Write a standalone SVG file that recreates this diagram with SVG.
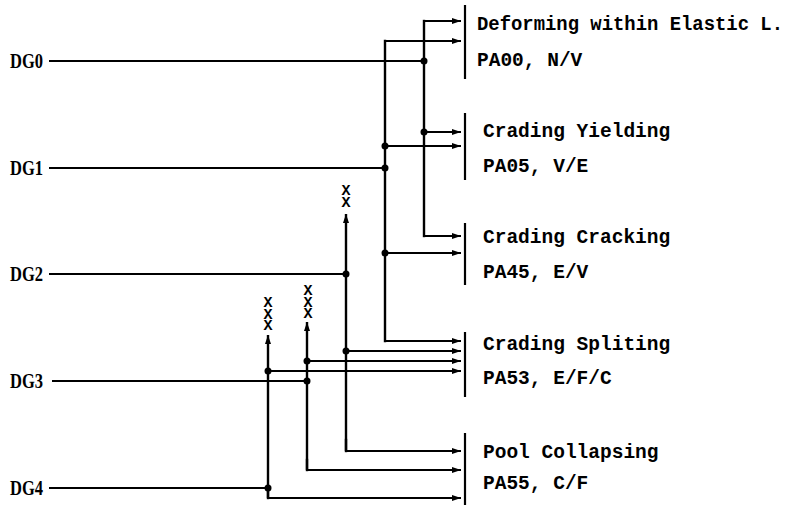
<svg xmlns="http://www.w3.org/2000/svg" width="801" height="507" viewBox="0 0 801 507">
<style>
.bg{fill:#fff}
.dg{font-family:"Liberation Serif",serif;font-weight:bold;font-size:20px;fill:#000}
.out{font-family:"Liberation Mono",monospace;font-weight:bold;font-size:19.5px;fill:#000}
.xx{font-family:"Liberation Mono",monospace;font-weight:bold;font-size:15px;fill:#000;writing-mode:vertical-rl;text-orientation:upright;letter-spacing:-5.5px}
.bar{stroke:#000;stroke-width:2.2;fill:none}
.ln{stroke:#000;stroke-width:2;fill:none}
.bus{stroke:#000;stroke-width:2.4;fill:none;stroke-linecap:square}
.ar{stroke:#000;stroke-width:2;fill:none;marker-end:url(#ah)}
.up{stroke:#000;stroke-width:2.4;fill:none;marker-end:url(#ah)}
.dot{fill:#000}
</style>
<defs>
<marker id="ah" markerWidth="9" markerHeight="7" refX="9" refY="3.5" orient="auto" markerUnits="userSpaceOnUse"><path d="M0,0.5 L9,3.5 L0,6.5 z" fill="#000"/></marker>
</defs>
<rect class="bg" x="0" y="0" width="801" height="507"/>

<g id="dg0"><text class="dg" x="10" y="68" textLength="33" lengthAdjust="spacingAndGlyphs">DG0</text></g>
<g id="dg1"><text class="dg" x="10" y="175" textLength="33" lengthAdjust="spacingAndGlyphs">DG1</text></g>
<g id="dg2"><text class="dg" x="10" y="281" textLength="33" lengthAdjust="spacingAndGlyphs">DG2</text></g>
<g id="dg3"><text class="dg" x="10" y="388" textLength="33" lengthAdjust="spacingAndGlyphs">DG3</text></g>
<g id="dg4"><text class="dg" x="10" y="495" textLength="33" lengthAdjust="spacingAndGlyphs">DG4</text></g>

<g id="out-elastic">
<line class="bar" x1="465" y1="5" x2="465" y2="79"/>
<text class="out" x="477" y="30" textLength="306" lengthAdjust="spacingAndGlyphs">Deforming within Elastic L.</text>
<text class="out" x="477" y="66">PA00, N/V</text>
</g>
<g id="out-yielding">
<line class="bar" x1="465" y1="113" x2="465" y2="180"/>
<text class="out" x="483" y="137">Crading Yielding</text>
<text class="out" x="483" y="172">PA05, V/E</text>
</g>
<g id="out-cracking">
<line class="bar" x1="465" y1="223" x2="465" y2="285"/>
<text class="out" x="483" y="243">Crading Cracking</text>
<text class="out" x="483" y="278">PA45, E/V</text>
</g>
<g id="out-spliting">
<line class="bar" x1="465" y1="332" x2="465" y2="397"/>
<text class="out" x="483" y="350">Crading Spliting</text>
<text class="out" x="483" y="384">PA53, E/F/C</text>
</g>
<g id="out-collapsing">
<line class="bar" x1="465" y1="433" x2="465" y2="505"/>
<text class="out" x="483" y="458">Pool Collapsing</text>
<text class="out" x="483" y="489">PA55, C/F</text>
</g>

<g id="blocked">
<text class="xx" x="346" y="183">XX</text>
<text class="xx" x="308" y="283">XXX</text>
<text class="xx" x="268" y="295">XXX</text>
</g>

<g id="connectors">
<path class="ln" d="M49,61 H424"/>
<path class="ln" d="M49,168 H385"/>
<path class="ln" d="M49,274 H346"/>
<path class="ln" d="M52,381 H307"/>
<path class="ln" d="M49,488 H268"/>
<path class="bus" d="M424,21 V236"/>
<path class="bus" d="M385,41 V341"/>
<path class="up" d="M346,451 V214"/>
<path class="up" d="M307,470 V322"/>
<path class="up" d="M268,498 V335"/>
<path class="bus" d="M346,451 V440"/>
<path class="bus" d="M307,470 V460"/>
<path class="bus" d="M268,498 V490"/>
<path class="ar" d="M424,21 H461"/>
<path class="ar" d="M385,41 H461"/>
<path class="ar" d="M424,132 H461"/>
<path class="ar" d="M385,146 H461"/>
<path class="ar" d="M424,236 H461"/>
<path class="ar" d="M385,253 H461"/>
<path class="ar" d="M385,341 H461"/>
<path class="ar" d="M346,351 H461"/>
<path class="ar" d="M307,361 H461"/>
<path class="ar" d="M268,371 H461"/>
<path class="ar" d="M346,451 H461"/>
<path class="ar" d="M307,470 H461"/>
<path class="ar" d="M268,498 H461"/>
<circle class="dot" cx="424" cy="61" r="3.5"/>
<circle class="dot" cx="424" cy="132" r="3.5"/>
<circle class="dot" cx="385" cy="146" r="3.5"/>
<circle class="dot" cx="385" cy="168" r="3.5"/>
<circle class="dot" cx="385" cy="253" r="3.5"/>
<circle class="dot" cx="346" cy="274" r="3.5"/>
<circle class="dot" cx="346" cy="351" r="3.5"/>
<circle class="dot" cx="307" cy="361" r="3.5"/>
<circle class="dot" cx="307" cy="381" r="3.5"/>
<circle class="dot" cx="268" cy="371" r="3.5"/>
<circle class="dot" cx="268" cy="488" r="3.5"/>
</g>
</svg>
